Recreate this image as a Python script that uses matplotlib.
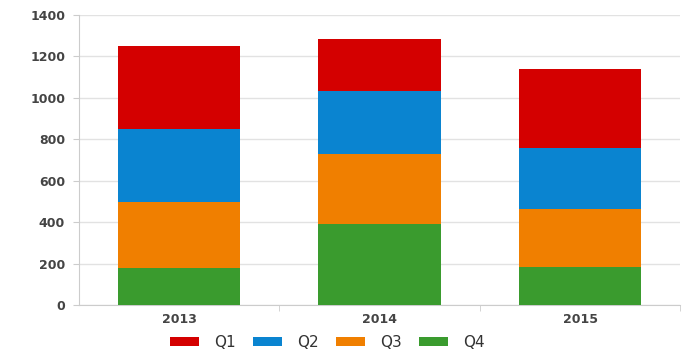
import numpy as np
import matplotlib
matplotlib.use("Agg")
import matplotlib.pyplot as plt

years = ["2013", "2014", "2015"]
quarters = ["Q1", "Q2", "Q3", "Q4"]
q1 = [400, 250, 380]
q2 = [355, 305, 295]
q3 = [315, 340, 280]
q4 = [180, 390, 185]
colors = {"Q1": "#d40000", "Q2": "#0a84d0", "Q3": "#f07f00", "Q4": "#3a9b2e"}

plt.rcParams['font.family'] = ['DejaVu Sans']

fig = plt.figure(figsize=(6.84, 3.53), dpi=100)
ax = fig.add_axes([0.1155, 0.136, 0.879, 0.8215])

x = np.arange(len(years))
w = 0.61
# Q4 sits at the bottom, Q1 on top
bottom = np.zeros(len(years))
for name, vals in [("Q4", q4), ("Q3", q3), ("Q2", q2), ("Q1", q1)]:
    ax.bar(x, vals, w, bottom=bottom, color=colors[name], label=name, zorder=3)
    bottom += np.array(vals)

ax.set_xlim(-0.5, 2.5)
ax.set_ylim(0, 1400)
ax.set_yticks(range(0, 1401, 200))
ax.yaxis.grid(True, color="#e2e2e2", linewidth=1, zorder=0)

ax.set_xticks(x)
ax.set_xticklabels(years)
ax.set_xticks([0.5, 1.5, 2.5], minor=True)
ax.tick_params(axis="x", which="major", length=0, pad=6)
ax.tick_params(axis="x", which="minor", length=4, color="#cccccc")
ax.tick_params(axis="y", length=4, color="#cccccc", pad=6)
for lab in ax.get_xticklabels() + ax.get_yticklabels():
    lab.set_fontsize(9)
    lab.set_fontweight("bold")
    lab.set_color("#444444")

for s in ["top", "right"]:
    ax.spines[s].set_visible(False)
ax.spines["left"].set_color("#cccccc")
ax.spines["bottom"].set_color("#cccccc")

handles, labels = ax.get_legend_handles_labels()
order = [labels.index(q) for q in quarters]
ax.legend([handles[i] for i in order], [labels[i] for i in order],
          loc="center", bbox_to_anchor=(0.413, -0.128), ncol=4,
          frameon=False, fontsize=11, handlelength=1.9, handleheight=0.55,
          handletextpad=1.0, columnspacing=1.1, labelcolor="#333333",
          borderpad=0)

fig.savefig("out.png", dpi=100)
